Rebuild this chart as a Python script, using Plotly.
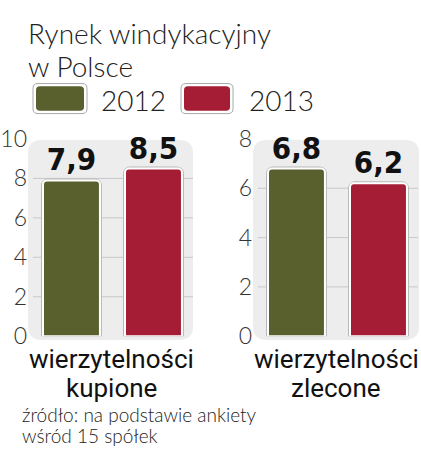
import plotly.graph_objects as go

# ---- data ----
years = ["2012", "2013"]
kupione = [7.9, 8.5]
zlecone = [6.8, 6.2]
left_ticks = [0, 2, 4, 6, 8, 10]
right_ticks = [0, 2, 4, 6, 8]
title_lines = ["Rynek windykacyjny", "w Polsce"]
left_label = ["wierzytelności", "kupione"]
right_label = ["wierzytelności", "zlecone"]
source_lines = ["źródło: na podstawie ankiety", "wśród 15 spółek"]

W, H = 421, 460
colors = ["#59602e", "#a51d34"]
LIGHT = "Lato"
REG = "Roboto"
COND = "DejaVu Sans Condensed"


def px(x):
    return x / W


def py(y):
    return 1 - y / H


def fmt(v):
    return f"{v:.1f}".replace(".", ",")


fig = go.Figure()

offsets = [-0.409, 0.088]
bw = 0.345
panels = [(kupione, "x", "y", "k"), (zlecone, "x2", "y2", "z")]
# soft gray outline under each bar
for i, yr in enumerate(years):
    for vals, xa, ya, cat in panels:
        fig.add_trace(go.Bar(
            x=[cat], y=[vals[i]], xaxis=xa, yaxis=ya,
            offset=offsets[i], width=bw,
            marker=dict(color="#b8b8b8", line=dict(color="#b8b8b8", width=4), cornerradius=5),
            showlegend=False, hoverinfo="skip",
        ))
for i, yr in enumerate(years):
    for vals, xa, ya, cat in panels:
        fig.add_trace(go.Bar(
            x=[cat], y=[vals[i]], xaxis=xa, yaxis=ya,
            offset=offsets[i], width=bw,
            marker=dict(color=colors[i], line=dict(color="white", width=2), cornerradius=4),
            text=[fmt(vals[i])], textposition="outside", cliponaxis=False,
            textfont=dict(family=COND, size=31, color="#111", weight="bold"),
            showlegend=False, hoverinfo="skip", name=yr,
        ))

ydom = [py(342), py(132)]
fig.update_layout(
    width=W, height=H, autosize=False,
    margin=dict(l=0, r=0, t=0, b=0),
    paper_bgcolor="white", plot_bgcolor="rgba(0,0,0,0)",
    barmode="overlay",
    xaxis=dict(domain=[px(28), px(193)], showticklabels=False, showgrid=False, zeroline=False,
               range=[-0.5, 0.5], fixedrange=True),
    xaxis2=dict(domain=[px(253), px(418)], showticklabels=False, showgrid=False, zeroline=False,
                range=[-0.5, 0.5], fixedrange=True),
    yaxis=dict(domain=ydom, range=[0, 10], tickvals=left_ticks, showgrid=False, zeroline=False,
               tickfont=dict(family=LIGHT, size=23, color="#333", weight=300), anchor="x", fixedrange=True),
    yaxis2=dict(domain=ydom, range=[0, 8], tickvals=right_ticks, showgrid=False, zeroline=False,
                tickfont=dict(family=LIGHT, size=23, color="#333", weight=300), anchor="x2", fixedrange=True),
)


def rounded(x0, y0, x1, y1, r):
    # pixel coords -> paper path with rounded corners
    rx, ry = r / W, r / H
    X0, X1 = px(x0), px(x1)
    Yt, Yb = py(y0), py(y1)
    return (f"M {X0+rx},{Yt} L {X1-rx},{Yt} Q {X1},{Yt} {X1},{Yt-ry} "
            f"L {X1},{Yb+ry} Q {X1},{Yb} {X1-rx},{Yb} L {X0+rx},{Yb} "
            f"Q {X0},{Yb} {X0},{Yb+ry} L {X0},{Yt-ry} Q {X0},{Yt} {X0+rx},{Yt} Z")


shapes = []
# gray panels
for x0, x1 in [(28, 193), (253, 419)]:
    shapes.append(dict(type="path", path=rounded(x0, 133, x1, 346, 14), xref="paper", yref="paper",
                       fillcolor="#ededed", line=dict(width=0), layer="below"))
# gridlines
for ya, xa, ticks in [("y", "x", left_ticks), ("y2", "x2", right_ticks)]:
    for t in ticks[1:-1]:
        shapes.append(dict(type="line", xref=f"{xa} domain", yref=ya, x0=0.03, x1=1, y0=t, y1=t,
                           line=dict(color="#c8c8c8", width=1), layer="below"))
# legend boxes
for (x0, x1), c in zip([(33, 87), (181, 233)], colors):
    shapes.append(dict(type="path", path=rounded(x0, 73, x1, 105, 5), xref="paper", yref="paper",
                       fillcolor="white", line=dict(color="#a8a8a8", width=1)))
    shapes.append(dict(type="path", path=rounded(x0 + 3, 76, x1 - 3, 102, 4), xref="paper", yref="paper",
                       fillcolor=c, line=dict(width=0)))
fig.update_layout(shapes=shapes)

ann = []


def text(t, x, y, size, weight=400, xanchor="left", family=LIGHT, color="#222"):
    ann.append(dict(text=t, x=px(x), y=py(y), xref="paper", yref="paper", showarrow=False,
                    xanchor=xanchor, yanchor="middle",
                    font=dict(family=family, size=size, color=color, weight=weight)))


text(title_lines[0], 26, 19, 28, 300)
text(title_lines[1], 26, 54, 28, 300)
text(years[0], 99, 91, 28, 300)
text(years[1], 247, 91, 28, 300)
text(left_label[0], 111, 366, 26, 400, "center", REG, "#111")
text(left_label[1], 111, 397.5, 26, 400, "center", REG, "#111")
text(right_label[0], 336, 366, 26, 400, "center", REG, "#111")
text(right_label[1], 336, 397.5, 26, 400, "center", REG, "#111")
text(source_lines[0], 20, 425, 19, 300)
text(source_lines[1], 20, 448, 19, 300)
fig.update_layout(annotations=ann)

fig.write_html("out.html", config={"displayModeBar": False},
               post_script="document.body.style.margin='0';")
